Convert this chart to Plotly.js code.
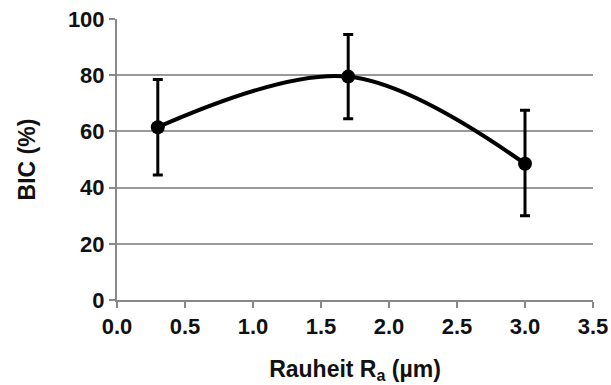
<!DOCTYPE html>
<html>
<head>
<meta charset="utf-8">
<script src="https://cdn.plot.ly/plotly-3.0.1.min.js"></script>
<style>html,body{margin:0;padding:0;background:#fff;}#chart{width:611px;height:385px;}</style>
</head>
<body>
<div id="chart"></div>
<script>
var roughness = [0.3, 1.7, 3.0];
var bic = [61.5, 79.5, 48.5];
var errPlus = [17, 15, 19];
var errMinus = [17, 15, 18.5];
var xTicks = [0, 0.5, 1, 1.5, 2, 2.5, 3, 3.5];
var xTickText = ['0.0', '0.5', '1.0', '1.5', '2.0', '2.5', '3.0', '3.5'];
var yTicks = [0, 20, 40, 60, 80, 100];

var trace = {
  x: roughness, y: bic, type: 'scatter', mode: 'lines+markers',
  line: {color: '#000', width: 4, shape: 'spline', smoothing: 1},
  marker: {color: '#000', size: 14},
  error_y: {type: 'data', symmetric: false, array: errPlus, arrayminus: errMinus,
            color: '#000', thickness: 3, width: 5},
  hoverinfo: 'skip'
};
var fam = 'Liberation Sans, Arial, sans-serif';
var layout = {
  width: 611, height: 385,
  margin: {l: 117, r: 18, t: 19, b: 85},
  paper_bgcolor: '#fff', plot_bgcolor: '#fff',
  showlegend: false,
  font: {family: fam, size: 20, color: '#111'},
  xaxis: {
    range: [0, 3.5], tickvals: xTicks, ticktext: xTickText,
    showgrid: false, zeroline: false, showline: true, linecolor: '#888', linewidth: 2,
    ticks: 'outside', ticklen: 6, tickcolor: '#888', tickwidth: 2,
    tickfont: {family: fam, size: 22, color: '#111', weight: 'bold'},
    title: {text: '<b>Rauheit R<sub>a</sub> (µm)</b>', standoff: 22,
            font: {family: fam, size: 23, color: '#111'}}
  },
  yaxis: {
    range: [0, 100], tickvals: yTicks,
    showgrid: true, gridcolor: '#999', gridwidth: 2,
    zeroline: false, showline: true, linecolor: '#888', linewidth: 2,
    ticks: 'outside', ticklen: 6, tickcolor: '#888', tickwidth: 2,
    tickfont: {family: fam, size: 22, color: '#111', weight: 'bold'},
    title: {text: '<b>BIC (%)</b>', standoff: 26,
            font: {family: fam, size: 23, color: '#111'}}
  }
};
Plotly.newPlot('chart', [trace], layout, {displayModeBar: false, staticPlot: true});
</script>
</body>
</html>
